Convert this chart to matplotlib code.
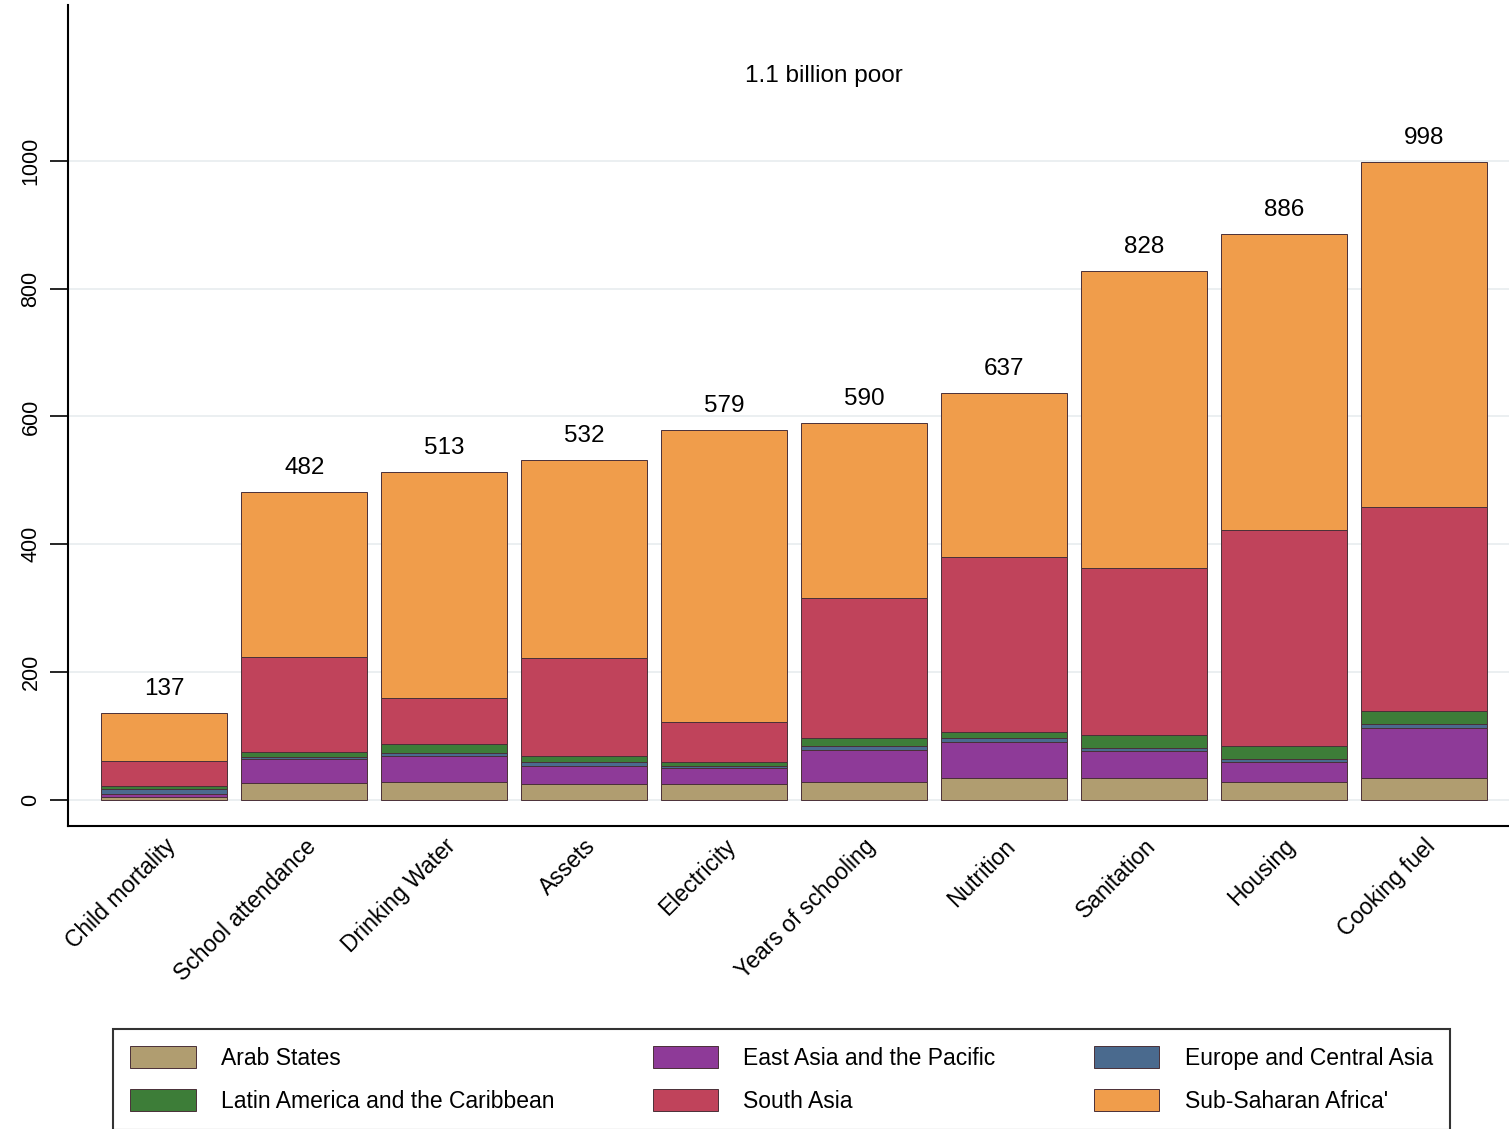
import matplotlib
matplotlib.use("Agg")
import matplotlib.pyplot as plt
import numpy as np

plt.rcParams["font.family"] = ["Liberation Sans", "DejaVu Sans"]

categories = ["Child mortality", "School attendance", "Drinking Water", "Assets",
              "Electricity", "Years of schooling", "Nutrition", "Sanitation",
              "Housing", "Cooking fuel"]

# millions of poor people deprived, by region (bottom to top of each stack)
arab_states = [5, 27, 29, 25, 26, 28, 34, 35, 29, 35]
east_asia = [5, 37, 40, 29, 24, 50, 57, 42, 30, 78]
europe_central_asia = [7, 4, 5, 6, 4, 6, 6, 5, 5, 6]
latin_america = [5, 8, 14, 9, 6, 14, 10, 20, 20, 21]
south_asia = [40, 148, 72, 153, 62, 218, 273, 261, 338, 319]
sub_saharan = [75, 258, 353, 310, 457, 274, 257, 465, 464, 539]
totals = [137, 482, 513, 532, 579, 590, 637, 828, 886, 998]

series = [
    ("Arab States", arab_states, "#b09d70"),
    ("East Asia and the Pacific", east_asia, "#8e3a98"),
    ("Europe and Central Asia", europe_central_asia, "#4a6a8e"),
    ("Latin America and the Caribbean", latin_america, "#3d7d38"),
    ("South Asia", south_asia, "#c0435b"),
    ("Sub-Saharan Africa'", sub_saharan, "#f09d4b"),
]

fig = plt.figure(figsize=(15.09, 11.29), dpi=100)
ax = fig.add_axes([0.045, 0.268, 0.955, 0.728])

x = np.arange(len(categories))
bottom = np.zeros(len(categories))
handles = {}
for label, vals, color in series:
    bars = ax.bar(x, vals, width=0.9, bottom=bottom, color=color,
                  edgecolor="#4a3038", linewidth=0.7, label=label, zorder=2)
    handles[label] = bars
    bottom += np.array(vals)

for xi, t in zip(x, totals):
    ax.text(xi, t + 20, str(t), ha="center", va="bottom", fontsize=17.5)

ax.text(4.71, 1133, "1.1 billion poor", ha="center", va="center", fontsize=17.5)

ax.set_xlim(-0.69, 9.61)
ax.set_ylim(-41, 1244)
ax.set_yticks([0, 200, 400, 600, 800, 1000])
ax.set_yticklabels(["0", "200", "400", "600", "800", "1000"], rotation=90,
                   va="center", fontsize=15.5)
ax.tick_params(axis="y", length=13, width=1.2, pad=6)
ax.set_xticks(x)
ax.set_xticklabels(categories, rotation=45, ha="right", rotation_mode="anchor",
                   fontsize=16.5)
ax.tick_params(axis="x", length=0, pad=6)
ax.yaxis.grid(True, color="#e8ecef", linewidth=1.2, zorder=0)
ax.set_axisbelow(True)
for side in ["top", "right"]:
    ax.spines[side].set_visible(False)
ax.spines["left"].set_linewidth(1.5)
ax.spines["bottom"].set_linewidth(1.5)

# legend filled row by row like the original (matplotlib fills by column)
order = ["Arab States", "Latin America and the Caribbean",
         "East Asia and the Pacific", "South Asia",
         "Europe and Central Asia", "Sub-Saharan Africa'"]
leg = fig.legend([handles[k] for k in order], order, ncol=3,
                 loc="upper left", bbox_to_anchor=(0.0749, 0.0886),
                 borderaxespad=0, fontsize=16.5, handlelength=2.85,
                 handleheight=1.1, handletextpad=1.1, columnspacing=4.3,
                 frameon=True, fancybox=False, edgecolor="black",
                 borderpad=0.75, labelspacing=0.85)
leg.get_frame().set_linewidth(1.5)

fig.savefig("out.png", dpi=100)
